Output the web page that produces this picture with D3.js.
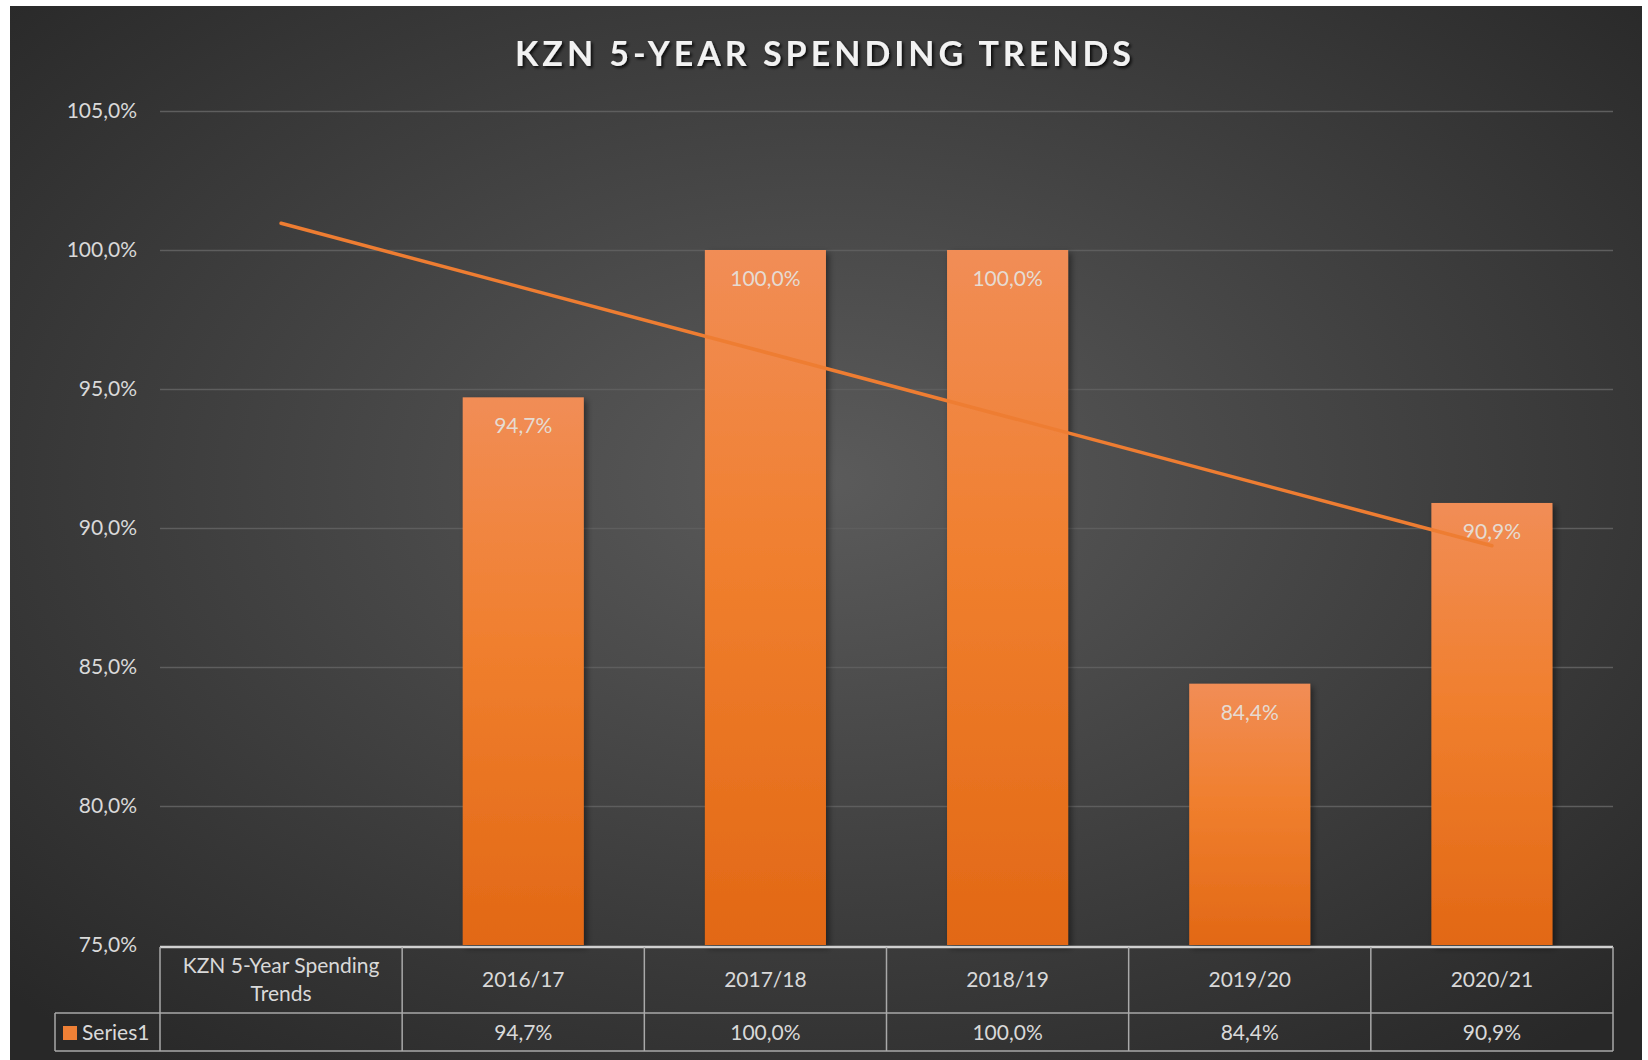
<!DOCTYPE html>
<html>
<head>
<meta charset="utf-8">
<script src="https://cdn.jsdelivr.net/npm/d3@7"></script>
<style>
  html, body { margin: 0; padding: 0; background: #fff; }
  svg { display: block; font-family: Lato, "Open Sans", sans-serif; }
</style>
</head>
<body>
<svg id="chart" width="1648" height="1060"></svg>
<script>
// data
var categories = ["KZN 5-Year Spending Trends", "2016/17", "2017/18", "2018/19", "2019/20", "2020/21"];
var values = [null, 94.7, 100.0, 100.0, 84.4, 90.9];
var yTicks = [75, 80, 85, 90, 95, 100, 105];
var seriesName = "Series1";
var title = "KZN 5-Year Spending Trends";

var svg = d3.select("#chart");
var fmt = function(v) { return v.toFixed(1).replace(".", ",") + "%"; };

// plot box (window.top is reserved, so prefixed names)
var plotL = 160, plotR = 1613, plotT = 111, plotB = 945;
var rowTop = 947, rowMid = 1013, rowBot = 1051, legendLeft = 55;

var defs = svg.append("defs");
var bg = defs.append("radialGradient").attr("id", "bg")
  .attr("cx", "50%").attr("cy", "45%").attr("r", "70%");
bg.append("stop").attr("offset", "0%").attr("stop-color", "#5b5b5b");
bg.append("stop").attr("offset", "100%").attr("stop-color", "#282828");

var barGrad = defs.append("linearGradient").attr("id", "barGrad")
  .attr("x1", 0).attr("y1", 0).attr("x2", 0).attr("y2", 1);
barGrad.append("stop").attr("offset", "0%").attr("stop-color", "#f18d56");
barGrad.append("stop").attr("offset", "45%").attr("stop-color", "#f07f2e");
barGrad.append("stop").attr("offset", "100%").attr("stop-color", "#e26815");

var sh = defs.append("filter").attr("id", "shadow")
  .attr("x", "-20%").attr("y", "-20%").attr("width", "140%").attr("height", "140%");
sh.append("feDropShadow").attr("dx", 3).attr("dy", 3).attr("stdDeviation", 3)
  .attr("flood-color", "#000").attr("flood-opacity", 0.45);

var tsh = defs.append("filter").attr("id", "tshadow");
tsh.append("feDropShadow").attr("dx", 2).attr("dy", 2).attr("stdDeviation", 1.5)
  .attr("flood-color", "#000").attr("flood-opacity", 0.8);

// chart area
svg.append("rect").attr("x", 10).attr("y", 6).attr("width", 1632).attr("height", 1054)
  .attr("fill", "url(#bg)");

// title
svg.append("text").attr("x", 825).attr("y", 66)
  .attr("text-anchor", "middle")
  .attr("font-size", 34).attr("font-weight", 700)
  .attr("letter-spacing", 4)
  .attr("fill", "#f2f2f2").attr("filter", "url(#tshadow)")
  .text(title.toUpperCase());

var x = d3.scaleBand().domain(categories).range([plotL, plotR])
  .paddingInner(0.5).paddingOuter(0.25);
var xCell = d3.scaleBand().domain(categories).range([plotL, plotR]);
var y = d3.scaleLinear().domain([75, 105]).range([plotB, plotT]);

// gridlines + y labels
var yAxis = d3.axisLeft(y).tickValues(yTicks).tickFormat(fmt)
  .tickSize(-(plotR - plotL)).tickPadding(23);
var gy = svg.append("g").attr("transform", "translate(" + plotL + ",0)").call(yAxis);
gy.select(".domain").remove();
gy.selectAll(".tick line").attr("stroke", "#5e5e5e").attr("stroke-width", 1.5)
  .filter(function(d) { return d === 75; }).remove();
gy.selectAll(".tick text").attr("fill", "#d9d9d9").attr("font-size", 21)
  .attr("font-family", "Lato, sans-serif");

// bars
var data = categories.map(function(c, i) { return { cat: c, v: values[i], i: i }; })
  .filter(function(d) { return d.v !== null; });

svg.append("g").selectAll("rect").data(data).join("rect")
  .attr("x", function(d) { return x(d.cat); })
  .attr("y", function(d) { return y(d.v); })
  .attr("width", x.bandwidth())
  .attr("height", function(d) { return y(75) - y(d.v); })
  .attr("fill", "url(#barGrad)")
  .attr("filter", "url(#shadow)");

svg.append("g").selectAll("text").data(data).join("text")
  .attr("x", function(d) { return x(d.cat) + x.bandwidth() / 2; })
  .attr("y", function(d) { return y(d.v) + 36; })
  .attr("text-anchor", "middle")
  .attr("font-size", 21).attr("fill", "#e6dbd2")
  .text(function(d) { return fmt(d.v); });

// linear trendline over category positions 1..n (blank first category included in x)
var pts = data.map(function(d) { return [d.i + 1, d.v]; });
var mx = d3.mean(pts, function(p) { return p[0]; });
var my = d3.mean(pts, function(p) { return p[1]; });
var slope = d3.sum(pts, function(p) { return (p[0] - mx) * (p[1] - my); }) /
  d3.sum(pts, function(p) { return (p[0] - mx) * (p[0] - mx); });
var trend = [1, categories.length].map(function(k) {
  return [xCell(categories[k - 1]) + xCell.bandwidth() / 2, y(my + slope * (k - mx))];
});
svg.append("path").attr("d", d3.line()(trend))
  .attr("stroke", "#ee7d32").attr("stroke-width", 3.5).attr("fill", "none")
  .attr("stroke-linecap", "round");

// data table
var tbl = svg.append("g").attr("stroke", "#a9a9a9").attr("stroke-width", 1.5);
tbl.append("line").attr("x1", plotL).attr("x2", plotR).attr("y1", rowTop).attr("y2", rowTop)
  .attr("stroke", "#d0d0d0").attr("stroke-width", 2.5);
[rowMid, rowBot].forEach(function(yy) {
  tbl.append("line").attr("x1", legendLeft).attr("x2", plotR).attr("y1", yy).attr("y2", yy);
});
tbl.append("line").attr("x1", legendLeft).attr("x2", legendLeft).attr("y1", rowMid).attr("y2", rowBot);
categories.forEach(function(c) {
  tbl.append("line").attr("x1", xCell(c)).attr("x2", xCell(c)).attr("y1", rowTop).attr("y2", rowBot);
});
tbl.append("line").attr("x1", plotR).attr("x2", plotR).attr("y1", rowTop).attr("y2", rowBot);

var cellText = svg.append("g").attr("fill", "#d9d9d9").attr("font-size", 21).attr("text-anchor", "middle");
categories.forEach(function(c, i) {
  var cx = xCell(c) + xCell.bandwidth() / 2;
  if (i === 0) {
    var t = cellText.append("text").attr("x", cx).attr("y", 973);
    t.append("tspan").attr("x", cx).text("KZN 5-Year Spending");
    t.append("tspan").attr("x", cx).attr("dy", 28).text("Trends");
  } else {
    cellText.append("text").attr("x", cx).attr("y", 987).text(c);
  }
  if (values[i] !== null) {
    cellText.append("text").attr("x", cx).attr("y", 1040).text(fmt(values[i]));
  }
});

// legend key
svg.append("rect").attr("x", 63).attr("y", 1026).attr("width", 14).attr("height", 14)
  .attr("fill", "#ef8036");
svg.append("text").attr("x", 82).attr("y", 1040).attr("fill", "#d9d9d9")
  .attr("font-size", 21).text(seriesName);
</script>
</body>
</html>
